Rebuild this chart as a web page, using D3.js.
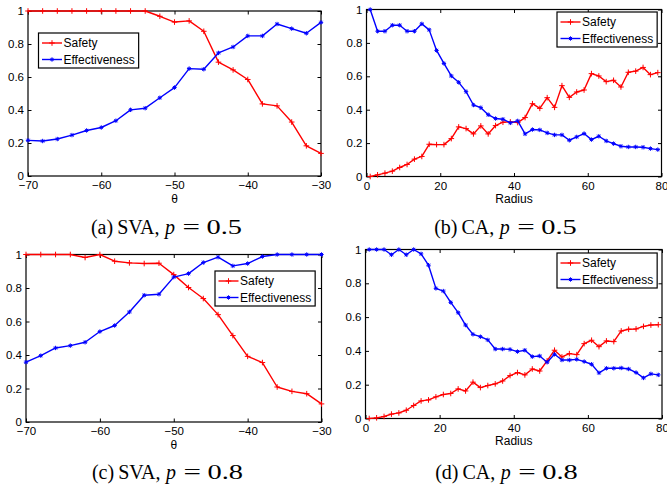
<!DOCTYPE html>
<html>
<head>
<meta charset="utf-8">
<script src="https://cdn.jsdelivr.net/npm/d3@7"></script>
<style>
  html, body { margin: 0; padding: 0; background: #fff; }
  svg { display: block; }
</style>
</head>
<body>
<svg id="chart" width="667" height="486"></svg>
<script>
// ---- data ----
const thetaValues = [-70, -68, -66, -64, -62, -60, -58, -56, -54, -52, -50,
                     -48, -46, -44, -42, -40, -38, -36, -34, -32, -30];
const radiusValues = [1, 3, 5, 7, 9, 11, 13, 15, 17, 19, 21, 23, 25, 27, 29, 31, 33, 35, 37, 39,
                      41, 43, 45, 47, 49, 51, 53, 55, 57, 59, 61, 63, 65, 67, 69, 71, 73, 75, 77, 79];

// (a) SVA, p = 0.5
const svaSafetyP05 = [1, 1, 1, 1, 1, 1, 1, 1, 1, 0.968, 0.933,
                      0.94, 0.877, 0.69, 0.643, 0.585, 0.437, 0.425, 0.327, 0.183, 0.137];
const svaEffectP05 = [0.216, 0.212, 0.224, 0.248, 0.276, 0.294, 0.335, 0.401, 0.411, 0.474, 0.536,
                      0.651, 0.647, 0.746, 0.782, 0.849, 0.849, 0.921, 0.893, 0.865, 0.931];

// (b) CA, p = 0.5
const caSafetyP05 = [0, 0.01, 0.02, 0.032, 0.054, 0.072, 0.104, 0.12, 0.193, 0.191,
                     0.191, 0.227, 0.297, 0.287, 0.255, 0.303, 0.255, 0.305, 0.325, 0.327,
                     0.323, 0.353, 0.436, 0.408, 0.472, 0.414, 0.544, 0.474, 0.506, 0.518,
                     0.616, 0.602, 0.568, 0.576, 0.536, 0.624, 0.631, 0.653, 0.61, 0.622];
const caEffectP05 = [1, 0.87, 0.87, 0.906, 0.906, 0.87, 0.87, 0.914, 0.878, 0.755,
                     0.677, 0.602, 0.564, 0.508, 0.428, 0.412, 0.37, 0.347, 0.343, 0.321,
                     0.333, 0.255, 0.281, 0.279, 0.261, 0.249, 0.249, 0.217, 0.237, 0.257,
                     0.221, 0.241, 0.213, 0.197, 0.181, 0.177, 0.177, 0.175, 0.167, 0.161];

// (c) SVA, p = 0.8
const svaSafetyP08 = [1, 1, 1, 1, 0.982, 1, 0.96, 0.95, 0.946, 0.948, 0.88,
                      0.803, 0.737, 0.641, 0.516, 0.392, 0.355, 0.209, 0.183, 0.169, 0.108];
const svaEffectP08 = [0.357, 0.396, 0.442, 0.456, 0.476, 0.54, 0.576, 0.657, 0.757, 0.763, 0.865,
                      0.886, 0.952, 0.984, 0.932, 0.946, 0.988, 1, 1, 1, 1];

// (d) CA, p = 0.8
const caSafetyP08 = [0, 0.004, 0.012, 0.026, 0.033, 0.049, 0.077, 0.104, 0.11, 0.128,
                     0.142, 0.148, 0.175, 0.163, 0.215, 0.183, 0.195, 0.205, 0.222, 0.254,
                     0.272, 0.258, 0.293, 0.281, 0.341, 0.404, 0.364, 0.384, 0.378, 0.443,
                     0.463, 0.425, 0.459, 0.455, 0.518, 0.528, 0.53, 0.545, 0.553, 0.555];
const caEffectP08 = [1, 1, 1, 0.969, 1, 0.969, 1, 0.974, 0.907, 0.77,
                     0.754, 0.687, 0.626, 0.553, 0.498, 0.484, 0.465, 0.411, 0.411, 0.409,
                     0.396, 0.404, 0.366, 0.37, 0.333, 0.38, 0.346, 0.346, 0.35, 0.337,
                     0.321, 0.27, 0.297, 0.297, 0.299, 0.293, 0.272, 0.24, 0.264, 0.258];

const seriesNames = ["Safety", "Effectiveness"];
const yTicks = [0, 0.2, 0.4, 0.6, 0.8, 1];
const thetaTicks = [-70, -60, -50, -40, -30];
const radiusTicks = [0, 20, 40, 60, 80];
const captionLetters = ["(a)", "(b)", "(c)", "(d)"];
const captionMethods = ["SVA,", "CA,", "SVA,", "CA,"];
const captionP = ["0.5", "0.5", "0.8", "0.8"];

// ---- layout & style ----
const colors = { Safety: "#ff0000", Effectiveness: "#0000ff" };
const sansFont = "'Liberation Sans', Arial, Helvetica, sans-serif";
const serifFont = "'Liberation Serif', 'Times New Roman', serif";

const panels = [
  { box: { left: 28, right: 321, top: 11, bottom: 176 },
    x: thetaValues, xDomain: [-70, -30], xTicks: thetaTicks, xLabel: "θ",
    series: [svaSafetyP05, svaEffectP05], legend: { left: 38.5, top: 33 },
    caption: { cx: 166.5, baseline: 234 } },
  { box: { left: 366.5, right: 661.5, top: 9.5, bottom: 176.5 },
    x: radiusValues, xDomain: [0, 80], xTicks: radiusTicks, xLabel: "Radius",
    series: [caSafetyP05, caEffectP05], legend: { left: 557, top: 12 },
    caption: { cx: 505.5, baseline: 234 } },
  { box: { left: 26, right: 321.5, top: 254.5, bottom: 422 },
    x: thetaValues, xDomain: [-70, -30], xTicks: thetaTicks, xLabel: "θ",
    series: [svaSafetyP08, svaEffectP08], legend: { left: 215, top: 271 },
    caption: { cx: 167.5, baseline: 479 } },
  { box: { left: 365.5, right: 662, top: 249.5, bottom: 418.5 },
    x: radiusValues, xDomain: [0, 80], xTicks: radiusTicks, xLabel: "Radius",
    series: [caSafetyP08, caEffectP08], legend: { left: 557, top: 253 },
    caption: { cx: 506.5, baseline: 479 } }
];

const svg = d3.select("#chart");
const tickLen = 3.5;

// '+' marker for Safety, '*' marker for Effectiveness
function markerPath(name) {
  const s = 2.8;
  if (name === "Safety") {
    return `M${-s},0H${s}M0,${-s}V${s}`;
  }
  const a = 2.2, d = a * 0.72;
  return `M${-a},0H${a}M0,${-a}V${a}M${-d},${-d}L${d},${d}M${-d},${d}L${d},${-d}`;
}

// sub-figure caption: "(x) METHOD, p = value", math part set wider like the TeX font
function drawCaption(i, c) {
  const g = svg.append("g");
  const pieces = [
    { text: captionLetters[i], gap: 4 },
    { text: captionMethods[i], gap: 5.5 },
    { text: "p", gap: 7.5, italic: true },
    { text: "=", gap: 6.5, width: 17.5 },
    { text: captionP[i], gap: 0, width: 35.5, size: 21 }
  ];
  let cursor = 0;
  const nodes = pieces.map(pc => {
    const t = g.append("text")
      .attr("y", c.baseline)
      .style("font-family", serifFont)
      .style("font-size", (pc.size || 20) + "px")
      .style("font-style", pc.italic ? "italic" : "normal")
      .text(pc.text);
    if (pc.width) {
      t.attr("textLength", pc.width).attr("lengthAdjust", "spacingAndGlyphs");
    }
    const w = pc.width || t.node().getComputedTextLength();
    t.attr("x", cursor);
    cursor += w + pc.gap;
    return t;
  });
  const total = cursor;
  nodes.forEach(t => t.attr("x", +t.attr("x") + c.cx - total / 2));
}

panels.forEach((p, i) => {
  const b = p.box;
  const g = svg.append("g");
  const x = d3.scaleLinear().domain(p.xDomain).range([b.left, b.right]);
  const y = d3.scaleLinear().domain([0, 1]).range([b.bottom, b.top]);

  // bottom axis with labels, inward ticks
  const xAxis = d3.axisBottom(x).tickValues(p.xTicks).tickSizeInner(-tickLen).tickSizeOuter(0)
    .tickPadding(5).tickFormat(d3.format(""));
  const xg = g.append("g").attr("transform", `translate(0,${b.bottom})`).call(xAxis);
  // top mirror ticks
  const xTop = d3.axisTop(x).tickValues(p.xTicks).tickSizeInner(-tickLen).tickSizeOuter(0).tickFormat("");
  const xtg = g.append("g").attr("transform", `translate(0,${b.top})`).call(xTop);

  const yAxis = d3.axisLeft(y).tickValues(yTicks).tickSizeInner(-tickLen).tickSizeOuter(0)
    .tickPadding(4).tickFormat(d => String(d));
  const yg = g.append("g").attr("transform", `translate(${b.left},0)`).call(yAxis);
  const yRight = d3.axisRight(y).tickValues(yTicks).tickSizeInner(-tickLen).tickSizeOuter(0).tickFormat("");
  const yrg = g.append("g").attr("transform", `translate(${b.right},0)`).call(yRight);

  [xg, xtg, yg, yrg].forEach(ax => {
    ax.select(".domain").remove();
    ax.selectAll(".tick line").attr("stroke", "#000").attr("stroke-width", 1);
    ax.selectAll("text").attr("fill", "#000").style("font-family", sansFont).style("font-size", "11.5px");
  });

  // frame
  g.append("rect")
    .attr("x", b.left).attr("y", b.top)
    .attr("width", b.right - b.left).attr("height", b.bottom - b.top)
    .attr("fill", "none").attr("stroke", "#000").attr("stroke-width", 1.2);

  // x axis title
  g.append("text")
    .attr("x", (b.left + b.right) / 2).attr("y", b.bottom + 26.5)
    .attr("text-anchor", "middle")
    .style("font-family", sansFont).style("font-size", "12px")
    .text(p.xLabel);

  // series lines and markers
  const line = d3.line().x((d, k) => x(p.x[k])).y(d => y(d));
  p.series.forEach((vals, s) => {
    const name = seriesNames[s];
    g.append("path").datum(vals)
      .attr("d", line)
      .attr("fill", "none").attr("stroke", colors[name]).attr("stroke-width", 1.4)
      .attr("stroke-linejoin", "round");
    g.selectAll(null).data(vals).enter().append("path")
      .attr("transform", (d, k) => `translate(${x(p.x[k])},${y(d)})`)
      .attr("d", markerPath(name))
      .attr("fill", "none").attr("stroke", colors[name]).attr("stroke-width", 1);
  });

  // legend
  const L = p.legend;
  const lg = g.append("g").attr("transform", `translate(${L.left},${L.top})`);
  const box = lg.append("rect").attr("fill", "#fff").attr("stroke", "#000").attr("stroke-width", 1.2);
  let maxW = 0;
  seriesNames.forEach((name, s) => {
    const ry = 10 + s * 16.5;
    lg.append("line").attr("x1", 3.5).attr("x2", 23.5).attr("y1", ry).attr("y2", ry)
      .attr("stroke", colors[name]).attr("stroke-width", 1.4);
    lg.append("path").attr("transform", `translate(13.5,${ry})`).attr("d", markerPath(name))
      .attr("fill", "none").attr("stroke", colors[name]).attr("stroke-width", 1);
    const t = lg.append("text").attr("x", 25).attr("y", ry).attr("dy", "0.35em")
      .style("font-family", sansFont).style("font-size", "12px").text(name);
    maxW = Math.max(maxW, t.node().getComputedTextLength());
  });
  box.attr("width", 25 + maxW + 4).attr("height", 35);

  drawCaption(i, p.caption);
});
</script>
</body>
</html>
